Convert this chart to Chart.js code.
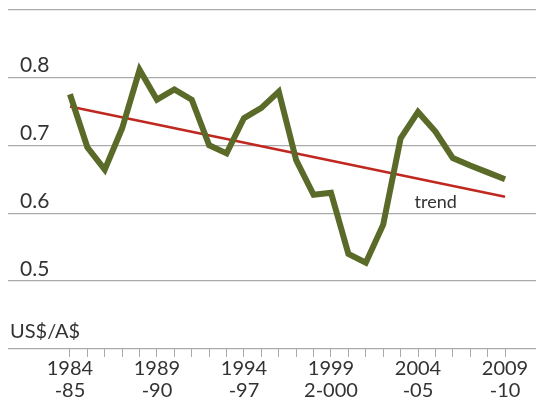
<!DOCTYPE html>
<html>
<head>
<meta charset="utf-8">
<script src="https://cdn.jsdelivr.net/npm/chart.js"></script>
<style>
  html, body { margin: 0; padding: 0; background: #fff; }
  #wrap { width: 536px; height: 405px; }
</style>
</head>
<body>
<div id="wrap"><canvas id="chart"></canvas></div>
<script>
// financial years, start year of each
const years = [1984, 1985, 1986, 1987, 1988, 1989, 1990, 1991, 1992, 1993, 1994, 1995, 1996,
  1997, 1998, 1999, 2000, 2001, 2002, 2003, 2004, 2005, 2006, 2007, 2008, 2009];
// US$ per A$
const rates = [0.775, 0.697, 0.664, 0.725, 0.811, 0.767, 0.782, 0.767, 0.700, 0.688, 0.740, 0.755, 0.779,
  0.678, 0.627, 0.630, 0.540, 0.527, 0.583, 0.710, 0.749, 0.720, 0.681, 0.670, 0.660, 0.650];
// trend line end points
const trendYears = [1984, 2009];
const trendValues = [0.757, 0.624];
// x labels every five years
const tickYears = [1984, 1989, 1994, 1999, 2004, 2009];
const tickLabels = [['1984', '-85'], ['1989', '-90'], ['1994', '-97'], ['1999', '2-000'], ['2004', '-05'], ['2009', '-10']];
// y gridlines, only some labelled
const yTicks = [0.4, 0.5, 0.6, 0.7, 0.8, 0.9];
const yLabels = [0.5, 0.6, 0.7, 0.8];

Chart.defaults.font.family = 'Lato';
Chart.defaults.color = '#333';

const textPlugin = {
  id: 'extraText',
  afterDraw(chart) {
    const {ctx, scales, chartArea} = chart;
    ctx.save();
    // top rule (0.9) would not show up, draw it again here
    const yTop = Math.round(scales.y.getPixelForValue(yTicks[yTicks.length - 1])) + 0.5;
    ctx.strokeStyle = '#aaa';
    ctx.lineWidth = 1.2;
    ctx.beginPath();
    ctx.moveTo(chartArea.left, yTop);
    ctx.lineTo(chartArea.right, yTop);
    ctx.stroke();

    ctx.fillStyle = '#333';
    ctx.textBaseline = 'alphabetic';
    ctx.textAlign = 'left';
    ctx.font = '20px Lato';
    ctx.fillText('US$/A$', 10, scales.y.getPixelForValue(0.4) - 11);
    ctx.font = '18px Lato';
    ctx.fillText('trend', scales.x.getPixelForValue(2003.8), scales.y.getPixelForValue(0.6) - 5);
    ctx.restore();
  }
};

new Chart(document.getElementById('chart'), {
  type: 'line',
  data: {
    datasets: [{
      data: years.map((y, i) => ({x: y, y: rates[i]})),
      borderColor: '#5a6a28',
      borderWidth: 6,
      borderJoinStyle: 'miter',
      pointRadius: 0,
      tension: 0
    }, {
      data: trendYears.map((y, i) => ({x: y, y: trendValues[i]})),
      borderColor: '#c0281f',
      borderWidth: 2.5,
      pointRadius: 0
    }]
  },
  options: {
    responsive: true,
    maintainAspectRatio: false,
    animation: false,
    layout: {padding: {left: 8, top: 8, right: 0, bottom: 0}},
    plugins: {legend: {display: false}, tooltip: {enabled: false}},
    scales: {
      x: {
        type: 'linear',
        min: 1980.44,
        max: 2010.78,
        afterBuildTicks: s => { s.ticks = years.map(v => ({value: v})); },
        afterFit: s => { s.height = 56; s.paddingLeft = 0; s.paddingRight = 0; },
        border: {display: false},
        grid: {drawOnChartArea: false, drawTicks: true, tickLength: 8, color: '#aaa', lineWidth: 1},
        ticks: {
          autoSkip: false,
          maxRotation: 0,
          padding: 1,
          font: {size: 20, lineHeight: 1.1},
          callback: v => {
            const k = tickYears.indexOf(v);
            return k < 0 ? '' : tickLabels[k];
          }
        }
      },
      y: {
        min: 0.4,
        max: 0.902,
        afterBuildTicks: s => { s.ticks = yTicks.map(v => ({value: v})); },
        afterFit: s => { s.width = 0; s.paddingTop = 0; s.paddingBottom = 0; },
        border: {display: false},
        grid: {drawTicks: false, color: '#aaa', lineWidth: 1.2},
        ticks: {
          mirror: true,
          padding: 12,
          labelOffset: -12,
          font: {size: 21},
          callback: v => {
            const r = Math.round(v * 10) / 10;
            return yLabels.includes(r) ? r.toFixed(1) : '';
          }
        }
      }
    }
  },
  plugins: [textPlugin]
});
</script>
</body>
</html>
